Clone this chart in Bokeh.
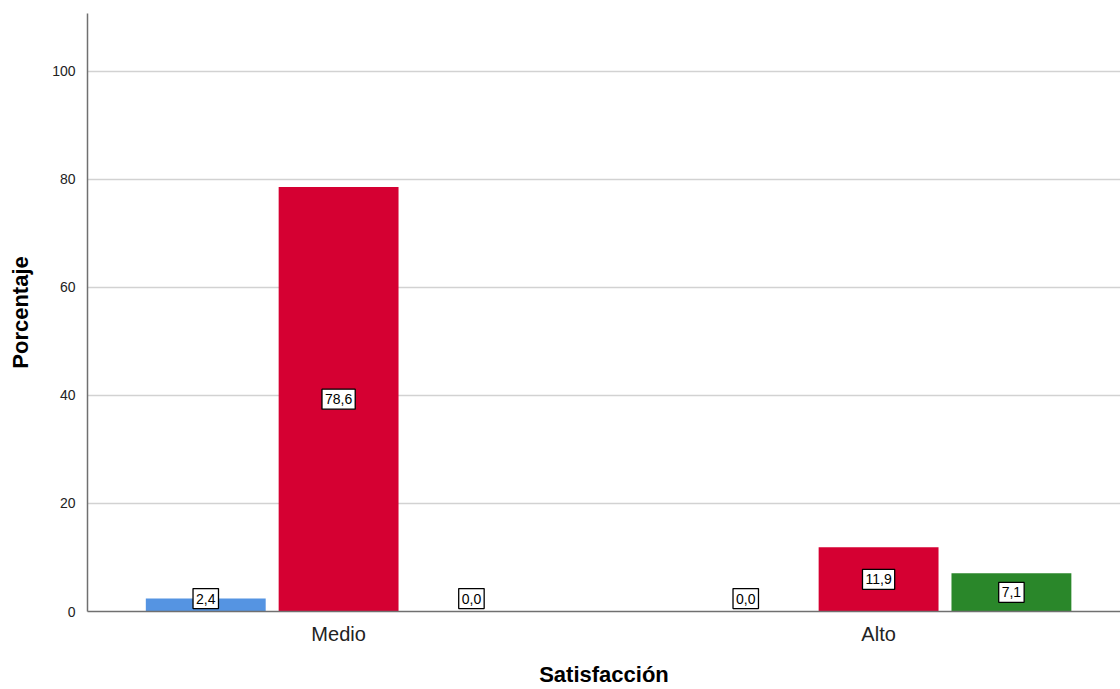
from bokeh.plotting import figure
from bokeh.models import ColumnDataSource, FixedTicker, Range1d
from bokeh.core.properties import value
from bokeh.embed import file_html
from bokeh.resources import INLINE

# ---- data ----
categories = ["Medio", "Alto"]
series_a = [2.4, 0.0]    # blue
series_b = [78.6, 11.9]  # red
series_c = [0.0, 7.1]    # green
y_ticks = [0, 20, 40, 60, 80, 100]

colors = ["#5594E2", "#D50032", "#2A872A"]
offsets = [-0.246, 0.0, 0.246]
bar_w = 0.222
FONT = "Liberation Sans"

p = figure(width=1120, height=689, output_backend="svg", toolbar_location=None,
           x_range=Range1d(-0.465, 1.448), y_range=Range1d(0, 110.7),
           min_border_left=87, min_border_right=0, min_border_top=13, min_border_bottom=78)
p.outline_line_color = None
p.xgrid.grid_line_color = None
p.ygrid.grid_line_color = "#d2d2d2"
p.ygrid.grid_line_width = 1.5
p.ygrid.ticker = FixedTicker(ticks=y_ticks)

for vals, off, col in zip([series_a, series_b, series_c], offsets, colors):
    xs = [i + off for i in range(len(categories))]
    src = ColumnDataSource(dict(
        x=xs, top=vals,
        ly=[max(v / 2, 2.4) for v in vals],
        txt=[("%.1f" % v).replace(".", ",") for v in vals],
    ))
    p.vbar(x="x", top="top", bottom=0, width=bar_w, source=src,
           fill_color=col, line_color=None)
    p.text(x="x", y="ly", text="txt", source=src, text_align="center",
           text_baseline="middle", text_font=value(FONT), text_font_size="14px",
           text_color="black", background_fill_color="white",
           border_line_color="black", border_line_width=1.3,
           padding=dict(x=3, y=5))

# y axis
p.yaxis.ticker = FixedTicker(ticks=y_ticks)
p.yaxis.axis_label = "Porcentaje"
p.yaxis.axis_label_text_font = FONT
p.yaxis.axis_label_text_font_style = "bold"
p.yaxis.axis_label_text_font_size = "22px"
p.yaxis.axis_label_text_color = "black"
p.yaxis.axis_label_standoff = 16
p.yaxis.major_label_text_font = FONT
p.yaxis.major_label_text_font_size = "14px"
p.yaxis.major_label_text_color = "#222222"
p.yaxis.major_label_standoff = 6
p.yaxis.major_tick_line_color = None
p.yaxis.minor_tick_line_color = None
p.yaxis.axis_line_color = "#707070"
p.yaxis.axis_line_width = 1.5

# x axis
p.xaxis.ticker = FixedTicker(ticks=list(range(len(categories))))
p.xaxis.major_label_overrides = {i: c for i, c in enumerate(categories)}
p.xaxis.axis_label = "Satisfacción"
p.xaxis.axis_label_text_font = FONT
p.xaxis.axis_label_text_font_style = "bold"
p.xaxis.axis_label_text_font_size = "22px"
p.xaxis.axis_label_text_color = "black"
p.xaxis.axis_label_standoff = 14
p.xaxis.major_label_text_font = FONT
p.xaxis.major_label_text_font_size = "20px"
p.xaxis.major_label_text_color = "#222222"
p.xaxis.major_label_standoff = 5
p.xaxis.major_tick_line_color = None
p.xaxis.minor_tick_line_color = None
p.xaxis.axis_line_color = "#707070"
p.xaxis.axis_line_width = 1.5

open("out.html", "w").write(file_html(p, INLINE))
